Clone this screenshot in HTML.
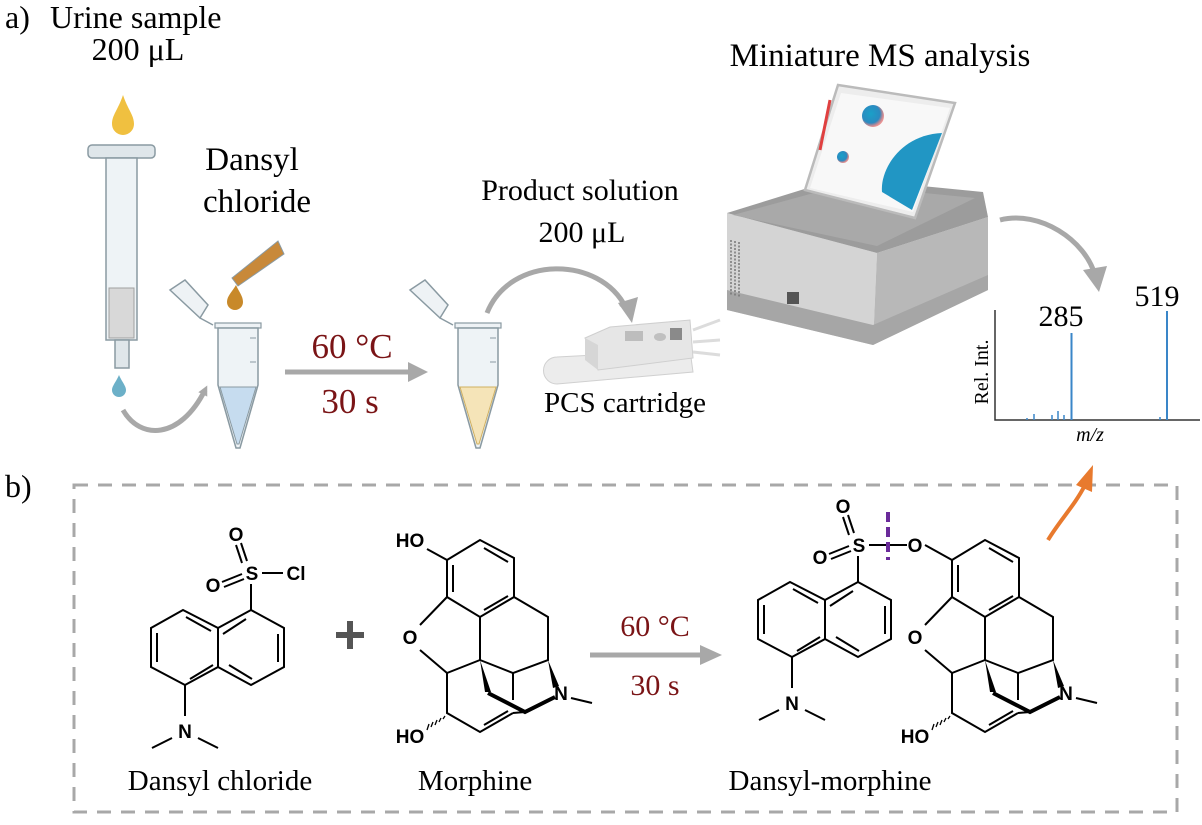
<!DOCTYPE html>
<html><head><meta charset="utf-8"><style>
html,body{margin:0;padding:0;background:#fff;}
svg{display:block;}
text{font-family:"Liberation Serif",serif;}
.chem text{font-family:"Liberation Sans",sans-serif;font-weight:bold;font-size:19px;}
</style></head><body>
<svg width="1202" height="825" viewBox="0 0 1202 825" xmlns="http://www.w3.org/2000/svg">
<defs>
<radialGradient id="b1" cx="0.4" cy="0.4" r="0.6"><stop offset="0" stop-color="#1aa0c8"/><stop offset="0.7" stop-color="#2b8ac0"/><stop offset="1" stop-color="#e05050" stop-opacity="0.6"/></radialGradient>
<marker id="ah" markerWidth="10" markerHeight="10" refX="5" refY="5" orient="auto" markerUnits="userSpaceOnUse"><path d="M0,0 L10,5 L0,10z" fill="#a8a8a8"/></marker>
</defs>

<!-- labels top -->
<text x="5" y="28" font-size="32">a)</text>
<text x="50" y="28" font-size="32">Urine sample</text>
<text x="138" y="60" font-size="32" text-anchor="middle">200 μL</text>
<text x="252" y="170" font-size="33" text-anchor="middle">Dansyl</text>
<text x="257" y="212" font-size="33" text-anchor="middle">chloride</text>
<text x="580" y="200" font-size="30" text-anchor="middle">Product solution</text>
<text x="582" y="242" font-size="30" text-anchor="middle">200 μL</text>
<text x="880" y="66" font-size="33" text-anchor="middle">Miniature MS analysis</text>
<text x="625" y="412" font-size="29" text-anchor="middle">PCS cartridge</text>
<text x="352" y="358" font-size="35" fill="#7a1416" text-anchor="middle">60 °C</text>
<text x="350" y="413" font-size="35" fill="#7a1416" text-anchor="middle">30 s</text>
<text x="5" y="497" font-size="32">b)</text>

<!-- syringe -->
<path d="M123,95 C118,110 112,115 112,124 a11,11 0 0 0 22,0 C134,115 128,110 123,95z" fill="#f0c040"/>
<rect x="88" y="145" width="67" height="13" rx="4" fill="#dfe6ea" stroke="#8a9aa2" stroke-width="1.5"/>
<rect x="106" y="158" width="31" height="182" fill="#eef3f6" stroke="#8a9aa2" stroke-width="1.5"/>
<rect x="109" y="288" width="25" height="50" fill="#d8d8d8" stroke="#a0a0a0"/>
<rect x="115" y="340" width="14" height="28" fill="#dfe6ea" stroke="#8a9aa2" stroke-width="1.5"/>
<path d="M119,375 C116,382 112,386 112,390 a7,7 0 0 0 14,0 C126,386 122,382 119,375z" fill="#6cb0c8"/>
<path d="M123,410 C140,440 180,440 205,390" fill="none" stroke="#a8a8a8" stroke-width="5" marker-end="url(#ah)"/>

<!-- tube1 -->
<g>
<path d="M170,290 L185,280 L208,305 L200,318 z" fill="#eef2f5" stroke="#8a9aa2" stroke-width="1.5"/>
<path d="M200,318 L213,325" stroke="#8a9aa2" stroke-width="1.5"/>
<rect x="215" y="323" width="46" height="5" fill="#eef2f5" stroke="#8a9aa2" stroke-width="1.2"/>
<path d="M218,328 L258,328 L258,385 L240,448 L236,448 L218,385 z" fill="#eef3f6" stroke="#8a9aa2" stroke-width="1.5"/>
<path d="M220,387 L256,387 L239,444 L237,444 z" fill="#c6dcef" stroke="#8a9aa2"/>
<path d="M250,338 h6 M250,362 h6" stroke="#8a9aa2"/>
<path d="M232,278 L278,241 L284,254 L238,286 z" fill="#c8893a" stroke="#8a9aa2"/>
<path d="M236,285 C232,292 227,296 227,302 a8,8 0 0 0 16,0 C243,296 239,292 236,285z" fill="#c8892a"/>
</g>
<!-- arrow 1 -->
<line x1="285" y1="372" x2="412" y2="372" stroke="#a8a8a8" stroke-width="5"/>
<path d="M408,362 L428,372 L408,382z" fill="#a8a8a8"/>
<!-- tube2 -->
<g transform="translate(240,0)">
<path d="M170,290 L185,280 L208,305 L200,318 z" fill="#eef2f5" stroke="#8a9aa2" stroke-width="1.5"/>
<path d="M200,318 L213,325" stroke="#8a9aa2" stroke-width="1.5"/>
<rect x="215" y="323" width="46" height="5" fill="#eef2f5" stroke="#8a9aa2" stroke-width="1.2"/>
<path d="M218,328 L258,328 L258,385 L240,448 L236,448 L218,385 z" fill="#eef3f6" stroke="#8a9aa2" stroke-width="1.5"/>
<path d="M220,387 L256,387 L239,444 L237,444 z" fill="#f5e4b8" stroke="#d0b060"/>
<path d="M250,338 h6 M250,362 h6" stroke="#8a9aa2"/>
</g>
<!-- arrow 2 -->
<path d="M487,313 C510,255 600,255 626,308" fill="none" stroke="#a8a8a8" stroke-width="5" marker-end="url(#ah)"/>
<path d="M618,303 L632,323 L638,297z" fill="#a8a8a8"/>
<!-- cartridge -->
<path d="M557,357 L690,350 L693,372 L557,384 a13,13 0 0 1 0,-27z" fill="#ececec" stroke="#d0d0d0"/>
<path d="M585,338 L610,327 L690,320 L693,358 L598,370 z" fill="#e6e6e6" stroke="#cfcfcf"/>
<path d="M585,338 L598,345 L598,370 L585,360z" fill="#d6d6d6"/>
<rect x="625" y="331" width="18" height="10" fill="#bdbdbd"/>
<ellipse cx="660" cy="337" rx="6" ry="4" fill="#c0c0c0"/>
<rect x="670" y="328" width="12" height="12" fill="#8a8a8a"/>
<path d="M693,330 L720,320 M693,342 L720,340 M693,352 L720,355" stroke="#dcdcdc" stroke-width="3"/>

<!-- instrument -->
<path d="M727,213 L877,253 L873,345 L727,310 z" fill="#d4d4d4"/>
<path d="M877,253 L988,217 L988,290 L873,345 z" fill="#b8b8b8"/>
<path d="M727,213 L840,178 L983,192 L988,217 L877,253 z" fill="#9c9c9c"/>
<path d="M733,215 L843,185 L975,198 L877,246 z" fill="#a9a9a9"/>
<path d="M727,290 L873,325 L988,275 L988,290 L873,345 L727,310z" fill="#a6a6a6"/>
<path d="M731,240 v55 M735,241 v55 M739,242 v55" stroke="#777" stroke-width="1.5" stroke-dasharray="2 1.5"/>
<rect x="787" y="292" width="12" height="12" fill="#555"/>
<path d="M838,85 L955,103 L915,218 L805,190 z" fill="#ededed" stroke="#bbb" stroke-width="2.5"/>
<path d="M841,93 L950,108 L913,212 L810,188 z" fill="#f8f8f8"/>
<circle cx="873" cy="116" r="11" fill="url(#b1)"/>
<circle cx="843" cy="157" r="6" fill="url(#b1)"/>
<path d="M942,133 C900,135 880,170 882,192 L912,210 L942,133z" fill="#2196c4"/>
<path d="M830,100 L820,150" stroke="#e04040" stroke-width="3"/>
<!-- arrow 3 -->
<path d="M1000,220 C1040,210 1085,240 1095,275" fill="none" stroke="#a8a8a8" stroke-width="5"/>
<path d="M1083,270 L1099,292 L1107,266z" fill="#a8a8a8"/>

<!-- spectrum -->
<path d="M995,310 V420 H1200" fill="none" stroke="#333" stroke-width="1.5"/>
<line x1="1071.5" y1="333" x2="1071.5" y2="420" stroke="#3a86c8" stroke-width="2"/>
<line x1="1167" y1="311" x2="1167" y2="420" stroke="#3a86c8" stroke-width="2"/>
<path d="M1034,420 v-6 M1052,420 v-5 M1058,420 v-9 M1064,420 v-5 M1160,420 v-3 M1027,420 v-2" stroke="#3a86c8" stroke-width="1.5"/>
<text x="1061" y="326" font-size="30" text-anchor="middle">285</text>
<text x="1157" y="306" font-size="30" text-anchor="middle">519</text>
<text x="988" y="372" font-size="20" text-anchor="middle" transform="rotate(-90 988 372)">Rel. Int.</text>
<text x="1090" y="441" font-size="20" font-style="italic" text-anchor="middle">m/z</text>

<!-- dashed box -->
<rect x="74" y="485" width="1103" height="327" fill="none" stroke="#a8a8a8" stroke-width="3" stroke-dasharray="14 10"/>
<path d="M1048,540 C1060,520 1075,505 1085,485" fill="none" stroke="#e87a2e" stroke-width="4"/>
<path d="M1076,485 L1093,465 L1092,492z" fill="#e87a2e"/>

<!-- plus and arrow b -->
<path d="M336,635 H364 M350,621 V649" stroke="#555" stroke-width="6"/>
<line x1="590" y1="655" x2="705" y2="655" stroke="#a8a8a8" stroke-width="5"/>
<path d="M700,645 L722,655 L700,665z" fill="#a8a8a8"/>
<text x="655" y="636" font-size="30" fill="#7a1416" text-anchor="middle">60 °C</text>
<text x="655" y="695" font-size="30" fill="#7a1416" text-anchor="middle">30 s</text>

<!-- dansyl chloride -->
<g stroke="#000" stroke-width="2" fill="none">
<path d="M183,610 L151,628 L151,667 L185,685 L218,667 L218,628 Z"/>
<path d="M218,628 L251,610 L284,628 L284,667 L251,685 L218,667"/>
<path d="M157,633 V662 M190,679 L213,665 M223,634 L246,619 M278,634 V662 M252,679 L229,665 M186,617 L211,631"/>
<path d="M251,610 V584 M185,685 V716"/>
<path d="M242,563 L236,545 M247,561 L241,543"/>
<path d="M242,574 L222,582 M244,579 L224,587"/>
<path d="M172,738 L152,748 M198,738 L218,748"/>
<path d="M262,573 L283,573"/>
</g>
<g class="chem">
<text x="236" y="541" text-anchor="middle">O</text>
<text x="252" y="580" text-anchor="middle">S</text>
<text x="213" y="592" text-anchor="middle">O</text>
<text x="185" y="738" text-anchor="middle">N</text>
<text x="296" y="580" text-anchor="middle">Cl</text>
</g>
<text x="220" y="790" font-size="29" text-anchor="middle">Dansyl chloride</text>

<!-- dansyl in product -->
<g transform="translate(607,-28)">
<g stroke="#000" stroke-width="2" fill="none">
<path d="M183,610 L151,628 L151,667 L185,685 L218,667 L218,628 Z"/>
<path d="M218,628 L251,610 L284,628 L284,667 L251,685 L218,667"/>
<path d="M157,633 V662 M190,679 L213,665 M223,634 L246,619 M278,634 V662 M252,679 L229,665 M186,617 L211,631"/>
<path d="M251,610 V584 M185,685 V716"/>
<path d="M242,563 L236,545 M247,561 L241,543"/>
<path d="M242,574 L222,582 M244,579 L224,587"/>
<path d="M172,738 L152,748 M198,738 L218,748"/>
<path d="M262,573 L300,573"/>
</g>
<g class="chem">
<text x="236" y="541" text-anchor="middle">O</text>
<text x="252" y="580" text-anchor="middle">S</text>
<text x="213" y="592" text-anchor="middle">O</text>
<text x="185" y="738" text-anchor="middle">N</text>
<text x="308" y="580" text-anchor="middle">O</text>
</g>
</g>
<line x1="888" y1="512" x2="888" y2="560" stroke="#6a2a9a" stroke-width="4" stroke-dasharray="10 5"/>
<text x="830" y="790" font-size="29" text-anchor="middle">Dansyl-morphine</text>

<!-- morphine -->
<g>
<g stroke="#000" stroke-width="2" fill="none">
<path d="M447,560 L480,540 L514,558 L514,597 L480,617 L447,597 Z"/>
<path d="M453,565 V592 M484,548 L508,562 M484,610 L508,596"/>
<path d="M447,560 L427,549"/>
<path d="M447,597 L420,625 M420,650 L447,673 L480,660 L480,617"/>
<path d="M514,597 L548,617 L548,660 L513,673 L480,660 M513,673 V700"/>
<path d="M447,673 V713 L480,732 L513,713 M484,725 L508,711"/>
<path d="M513,713 L525,712"/>
<path d="M571,698 L592,703"/>
</g>
<path d="M480,660 L485,692 L491,692 Z" fill="#000"/>
<path d="M488,693 L525,712 L555,697" fill="none" stroke="#000" stroke-width="4"/>
<path d="M548,660 L553,688 L559,686 Z" fill="#000"/>
<path d="M445,716 l-2,3 M441,718 l-2,4 M437,720 l-2,5 M433,722 l-2,5 M429,724 l-2,6" stroke="#000" stroke-width="1.3"/>
<g class="chem">
<text x="410" y="547" text-anchor="middle">HO</text>
<text x="410" y="644" text-anchor="middle">O</text>
<text x="561" y="700" text-anchor="middle">N</text>
<text x="410" y="743" text-anchor="middle">HO</text>
</g>
</g>
<text x="475" y="790" font-size="29" text-anchor="middle">Morphine</text>
<g transform="translate(505,0)">
<g stroke="#000" stroke-width="2" fill="none">
<path d="M447,560 L480,540 L514,558 L514,597 L480,617 L447,597 Z"/>
<path d="M453,565 V592 M484,548 L508,562 M484,610 L508,596"/>
<path d="M447,560 L420,545"/>
<path d="M447,597 L420,625 M420,650 L447,673 L480,660 L480,617"/>
<path d="M514,597 L548,617 L548,660 L513,673 L480,660 M513,673 V700"/>
<path d="M447,673 V713 L480,732 L513,713 M484,725 L508,711"/>
<path d="M513,713 L525,712"/>
<path d="M571,698 L592,703"/>
</g>
<path d="M480,660 L485,692 L491,692 Z" fill="#000"/>
<path d="M488,693 L525,712 L555,697" fill="none" stroke="#000" stroke-width="4"/>
<path d="M548,660 L553,688 L559,686 Z" fill="#000"/>
<path d="M445,716 l-2,3 M441,718 l-2,4 M437,720 l-2,5 M433,722 l-2,5 M429,724 l-2,6" stroke="#000" stroke-width="1.3"/>
<g class="chem">
<text x="410" y="644" text-anchor="middle">O</text>
<text x="561" y="700" text-anchor="middle">N</text>
<text x="410" y="743" text-anchor="middle">HO</text>
</g>
</g>
</svg>
</body></html>
